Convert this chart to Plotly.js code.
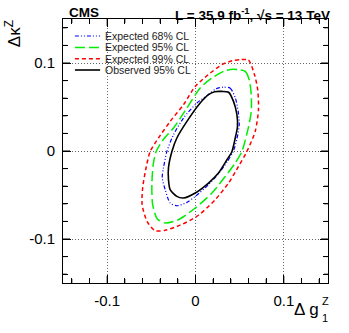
<!DOCTYPE html>
<html>
<head>
<meta charset="utf-8">
<script src="https://cdn.plot.ly/plotly-3.0.1.min.js"></script>
<style>
  html, body { margin: 0; padding: 0; background: #fff; }
  #chart { width: 349px; height: 333px; }
</style>
</head>
<body>
<div id="chart"></div>
<script>
// contour points (Δg1Z, ΔκZ), clockwise from the top
const exp68X = [0.0314, 0.0393, 0.0450, 0.0484, 0.0495, 0.0467, 0.0427, 0.0359, 0.0260, 0.0147, -0.0003, -0.0097, -0.0211, -0.0287, -0.0343, -0.0377, -0.0362, -0.0324, -0.0249, -0.0136, 0.0016, 0.0144, 0.0234, 0.0314];
const exp68Y = [0.0725, 0.0714, 0.0606, 0.0447, 0.0299, 0.0128, -0.0005, -0.0122, -0.0258, -0.0383, -0.0516, -0.0584, -0.0622, -0.0591, -0.0440, -0.0303, -0.0190, -0.0005, 0.0185, 0.0375, 0.0545, 0.0640, 0.0708, 0.0725];

const exp95X = [0.0487, 0.0563, 0.0608, 0.0631, 0.0631, 0.0593, 0.0525, 0.0450, 0.0337, 0.0186, -0.0003, -0.0193, -0.0343, -0.0434, -0.0485, -0.0494, -0.0479, -0.0445, -0.0366, -0.0249, -0.0097, 0.0053, 0.0186, 0.0336, 0.0427, 0.0487];
const exp95Y = [0.0924, 0.0905, 0.0810, 0.0640, 0.0447, 0.0242, -0.0005, -0.0136, -0.0289, -0.0477, -0.0648, -0.0781, -0.0818, -0.0769, -0.0610, -0.0383, -0.0156, -0.0005, 0.0128, 0.0261, 0.0489, 0.0716, 0.0830, 0.0913, 0.0930, 0.0924];

const exp99X = [0.0506, 0.0600, 0.0668, 0.0704, 0.0713, 0.0676, 0.0582, 0.0487, 0.0374, 0.0223, 0.0034, -0.0173, -0.0343, -0.0456, -0.0547, -0.0604, -0.0598, -0.0564, -0.0513, -0.0419, -0.0287, -0.0136, -0.0003, 0.0144, 0.0299, 0.0416, 0.0506];
const exp99Y = [0.1038, 0.1032, 0.0867, 0.0697, 0.0469, 0.0223, -0.0005, -0.0175, -0.0364, -0.0553, -0.0730, -0.0843, -0.0900, -0.0906, -0.0803, -0.0610, -0.0417, -0.0213, -0.0005, 0.0148, 0.0336, 0.0526, 0.0734, 0.0867, 0.0981, 0.1026, 0.1038];

const obs95X = [0.0299, 0.0374, 0.0430, 0.0469, 0.0475, 0.0450, 0.0412, 0.0356, 0.0260, 0.0147, -0.0003, -0.0136, -0.0211, -0.0287, -0.0306, -0.0306, -0.0267, -0.0211, -0.0097, 0.0053, 0.0147, 0.0217, 0.0299];
const obs95Y = [0.0677, 0.0668, 0.0564, 0.0413, 0.0276, 0.0148, -0.0008, -0.0099, -0.0250, -0.0364, -0.0477, -0.0534, -0.0516, -0.0440, -0.0326, -0.0190, -0.0005, 0.0148, 0.0336, 0.0545, 0.0640, 0.0674, 0.0677];

const seriesNames = ['Expected 68% CL', 'Expected 95% CL', 'Expected 99% CL', 'Observed 95% CL'];
const tickVals = [-0.1, 0, 0.1];
const tickText = ['-0.1', '0', '0.1'];
const minorTickVals = [-0.14, -0.12, -0.08, -0.06, -0.04, -0.02, 0.02, 0.04, 0.06, 0.08, 0.12, 0.14];

const FONT = 'Liberation Sans, Arial, Helvetica, sans-serif';

const styles = [
  { color: '#0000ff', width: 1.2, dash: '4px,2px,1px,2px,1px,2px' },
  { color: '#00ee00', width: 1.5, dash: '10px,4px' },
  { color: '#ff0000', width: 1.5, dash: '4px,3px' },
  { color: '#000000', width: 1.6, dash: 'solid' }
];

const curves = [[exp68X, exp68Y], [exp95X, exp95Y], [exp99X, exp99Y], [obs95X, obs95Y]];

const traces = curves.map(([x, y], i) => ({
  x: x, y: y,
  name: seriesNames[i],
  mode: 'lines',
  line: { color: styles[i].color, width: styles[i].width, dash: styles[i].dash, shape: 'spline', smoothing: 0.7 },
  showlegend: false,
  hoverinfo: 'skip'
}));
// empty trace so the overlay axes (labels, grid) get drawn
traces.push({ x: [], y: [], xaxis: 'x2', yaxis: 'y2', mode: 'lines', showlegend: false, hoverinfo: 'skip' });

// hand-made legend (ROOT style, tight rows)
const legRows = [0.9356, 0.8925, 0.8497, 0.8068];
const shapes = [];
const annotations = [];
seriesNames.forEach((name, i) => {
  shapes.push({
    type: 'line', xref: 'paper', yref: 'paper',
    x0: 0.045, x1: 0.14, y0: legRows[i], y1: legRows[i],
    line: { color: styles[i].color, width: styles[i].width, dash: styles[i].dash }
  });
  annotations.push({
    xref: 'paper', yref: 'paper', x: 0.151, y: legRows[i],
    xanchor: 'left', yanchor: 'middle', showarrow: false,
    text: name, font: { family: FONT, size: 10.5, color: '#222' }
  });
});

// ROOT-style inside ticks on all four sides
const PLOT_W = 265, PLOT_H = 264;
function addTicks(vals, len) {
  vals.forEach((v) => {
    const tick = { type: 'line', layer: 'above', line: { color: '#000', width: 1 } };
    shapes.push(Object.assign({}, tick, { xref: 'x', yref: 'paper', x0: v, x1: v, y0: 0, y1: len / PLOT_H }));
    shapes.push(Object.assign({}, tick, { xref: 'x', yref: 'paper', x0: v, x1: v, y0: 1, y1: 1 - len / PLOT_H }));
    shapes.push(Object.assign({}, tick, { xref: 'paper', yref: 'y', y0: v, y1: v, x0: 0, x1: len / PLOT_W }));
    shapes.push(Object.assign({}, tick, { xref: 'paper', yref: 'y', y0: v, y1: v, x0: 1, x1: 1 - len / PLOT_W }));
  });
}
addTicks(minorTickVals, 4);
addTicks(tickVals, 7);

annotations.push(
  { xref: 'paper', yref: 'paper', x: 0.015, y: 1.0265, xanchor: 'left', yanchor: 'middle',
    showarrow: false, text: '<b>CMS</b>', font: { family: FONT, size: 13.5, color: '#000' } },
  { xref: 'paper', yref: 'paper', x: 1.015, y: 1.0265, xanchor: 'right', yanchor: 'middle', yshift: -2,
    showarrow: false, text: '<b>L = 35.9 fb<sup>-1</sup>, √s = 13 TeV</b>', font: { family: FONT, size: 13.5, color: '#000' } },
  { xref: 'paper', yref: 'paper', x: 0.9736, y: -0.102, xanchor: 'right', yanchor: 'middle',
    showarrow: false, text: 'Δ g', font: { family: FONT, size: 17, color: '#000' } },
  { xref: 'paper', yref: 'paper', x: 0.9887, y: -0.068, xanchor: 'center', yanchor: 'middle',
    showarrow: false, text: 'Z', font: { family: FONT, size: 11, color: '#000' } },
  { xref: 'paper', yref: 'paper', x: 0.9887, y: -0.1326, xanchor: 'center', yanchor: 'middle',
    showarrow: false, text: '1', font: { family: FONT, size: 11, color: '#000' } },
  { xref: 'paper', yref: 'paper', x: -0.19, y: 0.945, xanchor: 'center', yanchor: 'middle', textangle: -90,
    showarrow: false, text: 'Δκ<sup>Z</sup>', font: { family: FONT, size: 17, color: '#000' } }
);

// base axes: frame only
const minorAxis = {
  range: [-0.15, 0.15],
  dtick: 0.02, showticklabels: false,
  ticks: 'inside', ticklen: 5, tickcolor: 'black', tickwidth: 1,
  showline: true, linecolor: 'black', mirror: 'ticks',
  showgrid: false, zeroline: false
};

// overlay axes: labels and dotted grid
const majorAxis = {
  range: [-0.15, 0.15],
  tickmode: 'array', tickvals: tickVals, ticktext: tickText,
  ticks: 'inside', ticklen: 8, tickcolor: 'black', tickwidth: 1,
  showline: true, linecolor: 'black', mirror: 'ticks',
  showgrid: true, gridcolor: '#666', griddash: '1px,2px', gridwidth: 1,
  zeroline: false,
  tickfont: { family: FONT, size: 15, color: '#000' },
  ticklabelstandoff: 4
};

const layout = {
  width: 349, height: 333,
  margin: { l: 63, r: 21, t: 19, b: 50 },
  paper_bgcolor: '#fff', plot_bgcolor: '#fff',
  xaxis: Object.assign({}, minorAxis),
  yaxis: Object.assign({}, minorAxis),
  xaxis2: Object.assign({}, majorAxis, { overlaying: 'x', anchor: 'y', side: 'bottom' }),
  yaxis2: Object.assign({}, majorAxis, { overlaying: 'y', anchor: 'x', side: 'left' }),
  shapes: shapes,
  annotations: annotations,
  showlegend: false
};

Plotly.newPlot('chart', traces, layout, { displayModeBar: false });
</script>
</body>
</html>
